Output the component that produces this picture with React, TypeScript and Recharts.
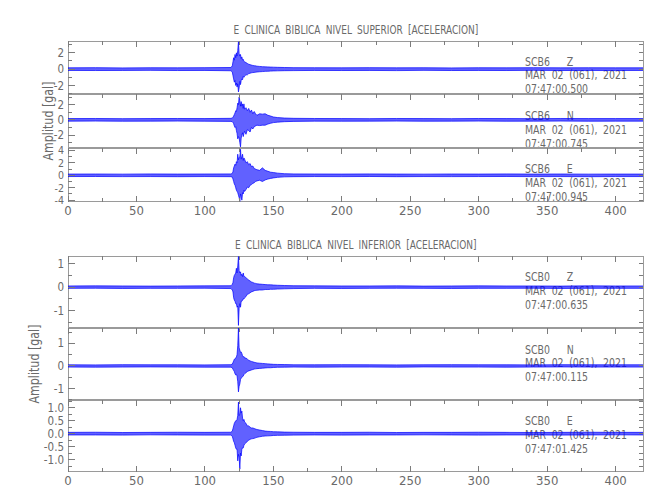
import { Area, ComposedChart, XAxis, YAxis } from 'recharts';

// seconds after record start; dense around the arrival near 120-160 s
const seconds = [
  0, 20, 40, 60, 80, 100, 119,
  120, 120.5, 121, 121.5, 122, 122.5, 123, 123.5, 124, 124.5, 125, 125.5, 126, 126.5, 127, 127.5, 128, 128.5,
  129, 130, 131, 132, 133, 134, 135, 136, 137, 138, 140, 142, 144, 146, 148, 150, 153, 158, 165,
  180, 200, 220, 240, 260, 280, 300, 320, 340, 360, 380, 400, 420,
];

const xTicks = [0, 25, 50, 75, 100, 125, 150, 175, 200, 225, 250, 275, 300, 325, 350, 375, 400];

// SCB6 (nivel superior) envelopes, gal
const scb6zHi = [
  0.16, 0.18, 0.15, 0.17, 0.16, 0.18, 0.2,
  0.4, 0.9, 1.4, 1.1, 1.8, 1.4, 2.0, 1.6, 2.3, 3.35, 1.9, 1.6, 1.8, 1.3, 1.5, 1.1, 1.2, 0.95,
  0.9, 0.8, 0.7, 0.6, 0.55, 0.5, 0.45, 0.42, 0.4, 0.36, 0.33, 0.3, 0.28, 0.27, 0.25, 0.24, 0.22, 0.2, 0.18,
  0.17, 0.16, 0.18, 0.16, 0.17, 0.15, 0.17, 0.16, 0.18, 0.16, 0.17, 0.16, 0.16,
];
const scb6zLo = [
  -0.16, -0.17, -0.16, -0.15, -0.17, -0.16, -0.2,
  -0.35, -0.8, -1.2, -1.6, -1.4, -2.0, -1.7, -2.2, -1.8, -2.8, -2.3, -1.5, -1.9, -1.4, -1.2, -1.3, -0.9, -1.0,
  -0.85, -0.7, -0.7, -0.55, -0.5, -0.45, -0.42, -0.4, -0.38, -0.35, -0.32, -0.3, -0.27, -0.26, -0.24, -0.22, -0.21, -0.19, -0.18,
  -0.16, -0.17, -0.16, -0.18, -0.15, -0.17, -0.16, -0.17, -0.15, -0.17, -0.16, -0.17, -0.16,
];
const scb6nHi = [
  0.17, 0.18, 0.16, 0.17, 0.18, 0.17, 0.2,
  0.25, 0.35, 0.5, 0.7, 0.9, 1.2, 1.1, 1.6, 2.2, 2.0, 3.0, 2.5, 1.8, 2.4, 1.8, 2.1, 1.5, 2.1,
  1.4, 1.6, 1.2, 1.5, 1.0, 1.3, 0.8, 1.1, 0.8, 0.6, 0.8, 0.75, 0.8, 0.6, 0.5, 0.38, 0.3, 0.24, 0.2,
  0.18, 0.17, 0.16, 0.18, 0.17, 0.16, 0.18, 0.17, 0.16, 0.18, 0.17, 0.17, 0.17,
];
const scb6nLo = [
  -0.17, -0.16, -0.18, -0.17, -0.16, -0.18, -0.2,
  -0.25, -0.35, -0.5, -0.8, -1.0, -0.9, -1.4, -1.8, -2.5, -2.2, -2.4, -3.0, -3.55, -2.4, -2.0, -1.7, -2.2, -1.8,
  -1.5, -1.9, -1.3, -1.4, -1.6, -1.0, -1.2, -0.9, -0.8, -0.7, -0.75, -0.7, -0.7, -0.55, -0.45, -0.36, -0.3, -0.24, -0.2,
  -0.17, -0.18, -0.17, -0.16, -0.18, -0.17, -0.16, -0.18, -0.17, -0.16, -0.18, -0.17, -0.17,
];
const scb6eHi = [
  0.2, 0.21, 0.19, 0.22, 0.2, 0.21, 0.22,
  0.3, 0.6, 1.2, 1.5, 1.8, 1.6, 2.2, 2.0, 3.4, 2.5, 2.9, 3.0, 4.2, 2.6, 3.0, 3.4, 2.4, 2.8,
  2.6, 2.0, 2.2, 1.7, 1.9, 1.4, 1.5, 1.1, 1.0, 0.9, 0.8, 1.2, 0.8, 0.65, 0.5, 0.45, 0.35, 0.26, 0.22,
  0.21, 0.2, 0.22, 0.2, 0.19, 0.21, 0.2, 0.22, 0.2, 0.21, 0.19, 0.2, 0.2,
];
const scb6eLo = [
  -0.2, -0.19, -0.21, -0.2, -0.22, -0.2, -0.22,
  -0.3, -0.6, -1.0, -1.4, -1.6, -2.0, -2.4, -2.6, -2.8, -3.2, -3.6, -4.2, -3.0, -3.4, -4.0, -2.8, -3.0, -2.4,
  -2.6, -2.3, -1.9, -2.0, -1.6, -1.5, -1.3, -1.2, -1.0, -0.9, -0.8, -1.0, -0.75, -0.6, -0.5, -0.42, -0.33, -0.25, -0.22,
  -0.2, -0.21, -0.19, -0.22, -0.2, -0.21, -0.2, -0.19, -0.21, -0.2, -0.22, -0.2, -0.2,
];

// SCB0 (nivel inferior) envelopes, gal
const scb0zHi = [
  0.05, 0.055, 0.05, 0.045, 0.05, 0.055, 0.06,
  0.12, 0.2, 0.4, 0.5, 0.55, 0.6, 0.8, 0.6, 0.9, 1.3, 0.7, 0.6, 0.65, 0.5, 0.55, 0.45, 0.6, 0.45,
  0.45, 0.4, 0.35, 0.3, 0.26, 0.22, 0.2, 0.17, 0.16, 0.14, 0.13, 0.12, 0.11, 0.1, 0.1, 0.09, 0.08, 0.07, 0.06,
  0.055, 0.05, 0.05, 0.055, 0.045, 0.05, 0.055, 0.05, 0.05, 0.045, 0.055, 0.05, 0.05,
];
const scb0zLo = [
  -0.05, -0.045, -0.055, -0.05, -0.05, -0.045, -0.06,
  -0.12, -0.2, -0.45, -0.55, -0.6, -0.7, -0.7, -0.85, -0.8, -1.62, -0.9, -0.7, -0.85, -0.6, -0.6, -0.55, -0.5, -0.5,
  -0.45, -0.4, -0.3, -0.28, -0.24, -0.2, -0.18, -0.15, -0.14, -0.13, -0.12, -0.12, -0.1, -0.1, -0.09, -0.09, -0.08, -0.07, -0.06,
  -0.05, -0.055, -0.05, -0.045, -0.05, -0.055, -0.05, -0.05, -0.045, -0.055, -0.05, -0.05, -0.05,
];
const scb0nHi = [
  0.05, 0.045, 0.055, 0.05, 0.05, 0.045, 0.055,
  0.08, 0.15, 0.22, 0.3, 0.3, 0.35, 0.4, 0.5, 0.9, 1.68, 0.8, 0.7, 0.6, 0.62, 0.55, 0.45, 0.4, 0.42,
  0.35, 0.35, 0.3, 0.25, 0.22, 0.2, 0.18, 0.16, 0.15, 0.13, 0.12, 0.11, 0.1, 0.09, 0.08, 0.07, 0.065, 0.06, 0.05,
  0.05, 0.055, 0.05, 0.045, 0.05, 0.055, 0.05, 0.05, 0.045, 0.055, 0.05, 0.05, 0.05,
];
const scb0nLo = [
  -0.05, -0.055, -0.05, -0.045, -0.05, -0.055, -0.055,
  -0.08, -0.15, -0.2, -0.25, -0.35, -0.4, -0.38, -0.45, -0.7, -1.15, -0.9, -0.8, -0.6, -0.55, -0.5, -0.48, -0.45, -0.38,
  -0.35, -0.3, -0.25, -0.22, -0.2, -0.18, -0.16, -0.14, -0.13, -0.12, -0.11, -0.1, -0.09, -0.08, -0.08, -0.07, -0.06, -0.055, -0.05,
  -0.055, -0.05, -0.05, -0.055, -0.045, -0.05, -0.05, -0.055, -0.05, -0.045, -0.05, -0.05, -0.05,
];
const scb0eHi = [
  0.05, 0.055, 0.045, 0.05, 0.055, 0.05, 0.055,
  0.1, 0.2, 0.3, 0.4, 0.45, 0.5, 0.5, 0.55, 0.7, 1.22, 0.7, 0.75, 1.0, 0.8, 0.87, 0.6, 0.5, 0.55,
  0.45, 0.4, 0.3, 0.3, 0.25, 0.22, 0.22, 0.2, 0.18, 0.16, 0.14, 0.12, 0.1, 0.09, 0.085, 0.075, 0.07, 0.06, 0.055,
  0.05, 0.05, 0.055, 0.045, 0.05, 0.05, 0.055, 0.05, 0.045, 0.05, 0.055, 0.05, 0.05,
];
const scb0eLo = [
  -0.05, -0.05, -0.055, -0.045, -0.05, -0.055, -0.055,
  -0.1, -0.2, -0.3, -0.35, -0.45, -0.55, -0.6, -0.6, -1.05, -0.8, -0.9, -1.37, -0.75, -0.86, -0.6, -0.55, -0.55, -0.45,
  -0.4, -0.35, -0.3, -0.25, -0.22, -0.2, -0.19, -0.18, -0.16, -0.14, -0.12, -0.1, -0.09, -0.085, -0.08, -0.07, -0.065, -0.06, -0.055,
  -0.05, -0.055, -0.05, -0.05, -0.045, -0.05, -0.055, -0.05, -0.05, -0.055, -0.05, -0.045, -0.05,
];

const FONT = "'Liberation Sans Narrow', 'DejaVu Sans Condensed', 'Liberation Sans', Arial, sans-serif";
const FRAME = '#9a9a9a';
const TICK = '#7c7c7c';
const INK = '#6a6a6a';
const BLUE = '#0000ff';
const PAD = 8; // room above each plot so top tick labels are not clipped
const GAP = 3; // tickMargin used by every axis, so the tick renderers can find the frame edge
const AXIS_W = 68; // left axis width = left edge of every plot

type TickProps = { x: number; y: number; payload: { value: number } };

// inward ticks, drawn by the axes' own tick renderers
const topTick = ({ x, y, payload }: TickProps) => {
  const len = payload.value % 50 === 0 ? 6 : 4;
  return <line x1={x} x2={x} y1={y + GAP} y2={y + GAP + len} stroke={TICK} shapeRendering="crispEdges" />;
};

const bottomTick = ({ x, y, payload }: TickProps) => {
  const v = payload.value;
  const major = v % 50 === 0;
  return (
    <g>
      <line x1={x} x2={x} y1={y - GAP} y2={y - GAP - (major ? 6 : 4)} stroke={TICK} shapeRendering="crispEdges" />
      {major && (
        <text x={x} y={y + 1} dy="0.71em" textAnchor="middle" fill={INK} fontSize={13} fontFamily={FONT}>
          {v}
        </text>
      )}
    </g>
  );
};

// right-hand ticks, plus the matching inward ticks on the left frame edge
const sideTicks = (labels: number[]) =>
  function SideTick({ x, y, payload }: TickProps) {
    const major = labels.includes(payload.value);
    return (
      <g shapeRendering="crispEdges">
        <line x1={x - GAP} x2={x - GAP - 4} y1={y} y2={y} stroke={TICK} />
        <line x1={AXIS_W} x2={AXIS_W + (major ? 7 : 4)} y1={y} y2={y} stroke={TICK} />
      </g>
    );
  };

const leftLabel = (labels: number[], digits: number, size: number) =>
  function LeftLabel({ x, y, payload }: TickProps) {
    const v = payload.value;
    if (!labels.includes(v)) return <g />;
    return (
      <text x={x - 1} y={y} dy="0.36em" textAnchor="end" fill={INK} fontSize={size} fontFamily={FONT}>
        {v.toFixed(digits)}
      </text>
    );
  };

type PanelProps = {
  hi: number[];
  lo: number[];
  top: number;
  height: number;
  domain: [number, number];
  ticks: number[];
  labels: number[];
  digits?: number;
  labelSize?: number;
  last?: boolean;
};

function Panel({ hi, lo, top, height, domain, ticks, labels, digits = 0, labelSize = 11.5, last = false }: PanelProps) {
  const data = seconds.map((t, i) => ({ t, range: [lo[i], hi[i]] }));
  const h = height + PAD + (last ? 22 : 0);

  return (
    <>
      <div
        style={{
          position: 'absolute',
          left: AXIS_W,
          top,
          width: 576,
          height,
          border: `1px solid ${FRAME}`,
          boxSizing: 'border-box',
        }}
      />
      <div style={{ position: 'absolute', left: 0, top: top - PAD, width: 650, height: h }}>
        <ComposedChart width={650} height={h} data={data} margin={{ top: PAD - 1, right: 6, bottom: 0, left: 0 }}>
          <XAxis
            xAxisId="top"
            orientation="top"
            type="number"
            dataKey="t"
            domain={[0, 420]}
            allowDataOverflow
            ticks={xTicks}
            interval={0}
            height={1}
            tickSize={0}
            tickMargin={GAP}
            tickLine={false}
            axisLine={false}
            tick={topTick}
          />
          <XAxis
            type="number"
            dataKey="t"
            domain={[0, 420]}
            allowDataOverflow
            ticks={xTicks}
            interval={0}
            hide={!last}
            height={last ? 22 : 0}
            tickSize={0}
            tickMargin={GAP}
            tickLine={false}
            axisLine={false}
            tick={bottomTick}
          />
          <YAxis
            type="number"
            domain={domain}
            allowDataOverflow
            ticks={ticks}
            interval={0}
            width={AXIS_W}
            tickSize={0}
            tickMargin={GAP}
            tickLine={false}
            axisLine={false}
            tick={leftLabel(labels, digits, labelSize)}
          />
          <YAxis
            yAxisId="right"
            orientation="right"
            type="number"
            domain={domain}
            allowDataOverflow
            ticks={ticks}
            interval={0}
            width={1}
            tickSize={0}
            tickMargin={GAP}
            tickLine={false}
            axisLine={false}
            tick={sideTicks(labels)}
          />
          {/* transparent copy that keeps the top and right axes bound to the data */}
          <Area
            xAxisId="top"
            yAxisId="right"
            type="linear"
            dataKey="range"
            stroke="none"
            fill="none"
            dot={false}
            activeDot={false}
            isAnimationActive={false}
          />
          <Area
            type="linear"
            dataKey="range"
            stroke={BLUE}
            strokeWidth={0.7}
            fill={BLUE}
            fillOpacity={0.62}
            dot={false}
            activeDot={false}
            isAnimationActive={false}
          />
        </ComposedChart>
      </div>
    </>
  );
}

function Note({ lines, top }: { lines: string[]; top: number }) {
  return (
    <>
      {lines.map((line, i) => (
        <div
          key={i}
          style={{
            position: 'absolute',
            left: 525,
            top: top + i * 13.8 - 7,
            height: 14,
            lineHeight: '14px',
            fontSize: 12,
            fontFamily: FONT,
            color: INK,
            whiteSpace: 'pre',
            wordSpacing: 3,
            transform: 'scaleX(0.87)',
            transformOrigin: '0 50%',
          }}
        >
          {line}
        </div>
      ))}
    </>
  );
}

function Title({ text, y }: { text: string; y: number }) {
  return (
    <div
      style={{
        position: 'absolute',
        left: AXIS_W,
        width: 576,
        top: y - 7,
        lineHeight: '14px',
        textAlign: 'center',
        fontSize: 13,
        fontFamily: FONT,
        color: INK,
      }}
    >
      <span style={{ display: 'inline-block', wordSpacing: 3, transform: 'scaleX(0.77)', whiteSpace: 'pre' }}>{text}</span>
    </div>
  );
}

function AxisName({ x, y }: { x: number; y: number }) {
  return (
    <div
      style={{
        position: 'absolute',
        left: x - 50,
        top: y - 8,
        width: 100,
        lineHeight: '16px',
        textAlign: 'center',
        fontSize: 14,
        fontFamily: FONT,
        color: INK,
        transform: 'rotate(-90deg) scaleX(0.88)',
      }}
    >
      Amplitud [gal]
    </div>
  );
}

export default function App() {
  return (
    <div style={{ position: 'absolute', left: 0, top: 0, width: 650, height: 500, background: '#fff', overflow: 'hidden' }}>
      <Title text="E CLINICA BIBLICA NIVEL SUPERIOR [ACELERACION]" y={29.5} />
      <Title text="E CLINICA BIBLICA NIVEL INFERIOR [ACELERACION]" y={245} />
      <AxisName x={48} y={121} />
      <AxisName x={34} y={364} />

      <Note top={61.5} lines={['SCB6   Z', 'MAR 02 (061), 2021', '07:47:00.500']} />
      <Note top={116} lines={['SCB6   N', 'MAR 02 (061), 2021', '07:47:00.745']} />
      <Note top={169.3} lines={['SCB6   E', 'MAR 02 (061), 2021', '07:47:00.945']} />
      <Note top={277.3} lines={['SCB0   Z', 'MAR 02 (061), 2021', '07:47:00.635']} />
      <Note top={349.5} lines={['SCB0   N', 'MAR 02 (061), 2021', '07:47:00.115']} />
      <Note top={421} lines={['SCB0   E', 'MAR 02 (061), 2021', '07:47:01.425']} />

      <Panel hi={scb6zHi} lo={scb6zLo} top={41} height={53} domain={[-3.05, 3.45]} ticks={[-3, -2, -1, 0, 1, 2, 3]} labels={[-2, 0, 2]} />
      <Panel hi={scb6nHi} lo={scb6nLo} top={94} height={54} domain={[-3.7, 3.4]} ticks={[-3, -2, -1, 0, 1, 2, 3]} labels={[-2, 0, 2]} />
      <Panel
        hi={scb6eHi}
        lo={scb6eLo}
        top={148}
        height={54}
        domain={[-4.3, 4.4]}
        ticks={[-4, -3, -2, -1, 0, 1, 2, 3, 4]}
        labels={[-4, -2, 0, 2, 4]}
        labelSize={10.5}
        last
      />

      <Panel hi={scb0zHi} lo={scb0zLo} top={256} height={72} domain={[-1.73, 1.32]} ticks={[-1.5, -1, -0.5, 0, 0.5, 1]} labels={[-1, 0, 1]} />
      <Panel hi={scb0nHi} lo={scb0nLo} top={328} height={72} domain={[-1.51, 1.68]} ticks={[-1.5, -1, -0.5, 0, 0.5, 1, 1.5]} labels={[-1, 0, 1]} />
      <Panel
        hi={scb0eHi}
        lo={scb0eLo}
        top={400}
        height={72}
        domain={[-1.48, 1.3]}
        ticks={[-1.25, -1, -0.75, -0.5, -0.25, 0, 0.25, 0.5, 0.75, 1, 1.25]}
        labels={[-1, -0.5, 0, 0.5, 1]}
        digits={1}
        last
      />
    </div>
  );
}
